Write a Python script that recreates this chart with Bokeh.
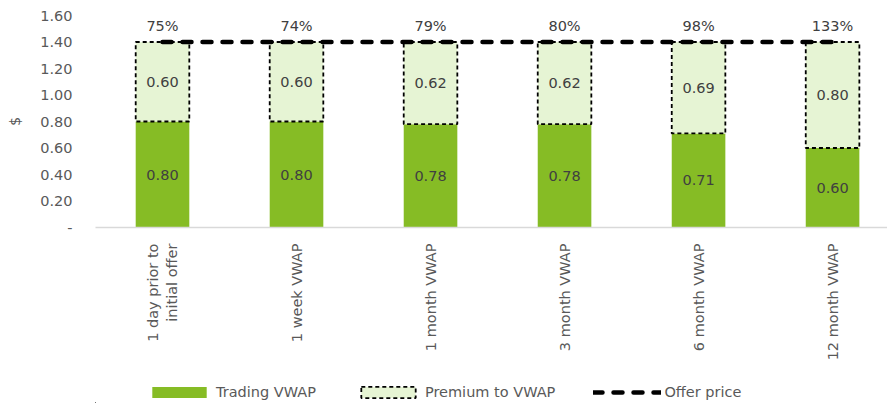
from math import pi

from bokeh.core.properties import value
from bokeh.embed import file_html
from bokeh.layouts import column
from bokeh.models import (ColumnDataSource, FixedTicker, Legend, LegendItem,
                          Range1d, CustomJSTickFormatter)
from bokeh.plotting import figure
from bokeh.resources import INLINE

# Share price comparison data
categories = ["1 day prior to\ninitial offer", "1 week VWAP", "1 month VWAP",
              "3 month VWAP", "6 month VWAP", "12 month VWAP"]
trading_vwap = [0.80, 0.80, 0.78, 0.78, 0.71, 0.60]
premium = [0.60, 0.60, 0.62, 0.62, 0.69, 0.80]
offer_price = [1.40, 1.40, 1.40, 1.40, 1.40, 1.40]
premium_pct = ["75%", "74%", "79%", "80%", "98%", "133%"]
y_ticks = [0.0, 0.2, 0.4, 0.6, 0.8, 1.0, 1.2, 1.4, 1.6]

GREEN = "#86BC25"
LIGHT = "#E6F4D4"
TEXT = "#595959"
LABEL = "#404040"
FONT = "DejaVu Sans"

xs = list(range(len(categories)))
src = ColumnDataSource(dict(
    x=xs,
    vwap=trading_vwap,
    prem=premium,
    top=[a + b for a, b in zip(trading_vwap, premium)],
    offer=offer_price,
    vwap_mid=[a / 2 for a in trading_vwap],
    prem_mid=[a + b / 2 for a, b in zip(trading_vwap, premium)],
    vwap_txt=[f"{v:.2f}" for v in trading_vwap],
    prem_txt=[f"{v:.2f}" for v in premium],
    pct=premium_pct,
))

BAR_W = 0.40
VWAP_STYLE = dict(fill_color=GREEN, line_color=None)
PREM_STYLE = dict(fill_color=LIGHT, line_color="black", line_width=1.8,
                  line_dash="4 3")
OFFER_STYLE = dict(line_color="black", line_width=4.5, line_dash="9 11",
                   line_cap="round")

p = figure(width=887, height=365, output_backend="svg", toolbar_location=None,
           x_range=Range1d(-0.5, 5.41), y_range=Range1d(0, 1.6),
           min_border_left=95, min_border_right=0, min_border_top=15,
           min_border_bottom=138)
p.outline_line_color = None
p.xgrid.grid_line_color = None
p.ygrid.grid_line_color = None

p.vbar(x="x", bottom=0, top="vwap", width=BAR_W, source=src, **VWAP_STYLE)
p.vbar(x="x", bottom="vwap", top="top", width=BAR_W, source=src, **PREM_STYLE)
p.line(x="x", y="offer", source=src, **OFFER_STYLE)

# value labels inside each segment, premium % above the offer line
text_kw = dict(source=src, text_align="center", text_baseline="middle",
               text_color=LABEL, text_font=value(FONT), text_font_size="14.5px")
p.text(x="x", y="vwap_mid", text="vwap_txt", **text_kw)
p.text(x="x", y="prem_mid", text="prem_txt", **text_kw)
p.text(x="x", y="offer", text="pct", y_offset=-16, **text_kw)

# y axis
yax = p.yaxis[0]
yax.ticker = FixedTicker(ticks=y_ticks)
yax.formatter = CustomJSTickFormatter(code="return tick < 1e-9 ? '-' : tick.toFixed(2);")
yax.axis_line_color = None
yax.major_tick_line_color = None
yax.minor_tick_line_color = None
yax.major_label_standoff = 17
yax.major_label_text_font = FONT
yax.major_label_text_font_size = "14.5px"
yax.major_label_text_color = TEXT
yax.axis_label = "$"
yax.axis_label_text_font = FONT
yax.axis_label_text_font_size = "14.5px"
yax.axis_label_text_font_style = "normal"
yax.axis_label_text_color = TEXT
yax.axis_label_standoff = 14

# x axis
xax = p.xaxis[0]
xax.ticker = FixedTicker(ticks=xs)
xax.major_label_overrides = {i: c for i, c in enumerate(categories)}
xax.major_label_orientation = pi / 2
xax.axis_line_color = "#D9D9D9"
xax.axis_line_width = 1.5
xax.major_tick_line_color = None
xax.minor_tick_line_color = None
xax.major_label_standoff = 10
xax.major_label_text_font = FONT
xax.major_label_text_font_size = "14.5px"
xax.major_label_text_color = TEXT

# legend strip: same glyph styles, drawn outside its visible range
leg = figure(width=887, height=38, output_backend="svg", toolbar_location=None,
             x_range=Range1d(100, 101), y_range=Range1d(100, 101),
             x_axis_location=None, y_axis_location=None,
             min_border_left=0, min_border_right=0, min_border_top=0,
             min_border_bottom=0)
leg.outline_line_color = None
leg.grid.visible = False
l_vwap = leg.vbar(x="x", bottom=0, top="vwap", width=BAR_W, source=src, **VWAP_STYLE)
l_prem = leg.vbar(x="x", bottom="vwap", top="top", width=BAR_W, source=src, **PREM_STYLE)
l_offer = leg.line(x="x", y="offer", source=src, **OFFER_STYLE)

# the column aligns this frame with the chart frame (left edge at 95 px)
legend = Legend(items=[
    LegendItem(label="Trading VWAP", renderers=[l_vwap]),
    LegendItem(label="Premium to VWAP", renderers=[l_prem]),
    LegendItem(label="Offer price", renderers=[l_offer]),
], orientation="horizontal", location=(50, 3))
legend.border_line_color = None
legend.background_fill_alpha = 0
legend.label_text_font = FONT
legend.label_text_font_size = "14.5px"
legend.label_text_color = TEXT
legend.glyph_width = 68
legend.glyph_height = 14
legend.label_standoff = 3
legend.spacing = 38
legend.padding = 4
legend.margin = 0
leg.add_layout(legend)

open("out.html", "w").write(file_html(column(p, leg, spacing=0), INLINE))
